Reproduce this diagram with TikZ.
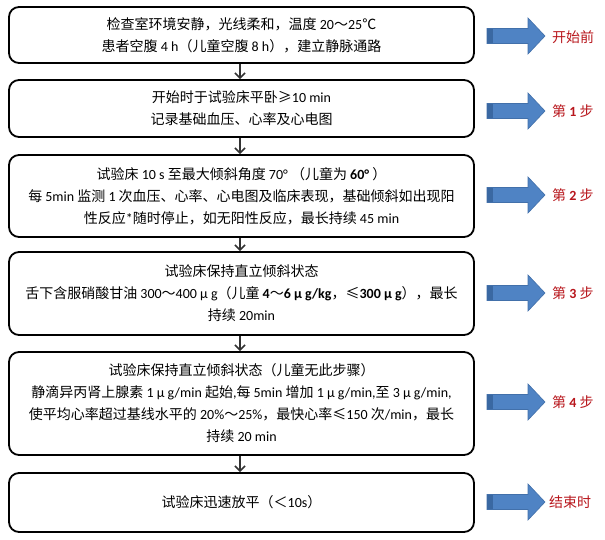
\documentclass[tikz,border=0pt]{standalone}
\usepackage{fontspec}
\setmainfont{Noto Sans CJK SC}
\newfontfamily\lat{Carlito}
\usetikzlibrary{arrows.meta}
\definecolor{stepred}{RGB}{184,22,28}
\definecolor{arrowblue}{RGB}{79,131,196}
\definecolor{arrowdark}{RGB}{58,104,162}
\definecolor{arrowedge}{RGB}{66,112,170}
\newcommand{\La}[1]{{\lat #1}}
\newcommand{\Lb}[1]{{\lat\bfseries #1}}
\tikzset{
  stepbox/.style={draw=black, line width=1.8pt, rounded corners=10pt,
    minimum width=465pt, inner sep=0pt, align=center,
    font=\fontsize{14pt}{22pt}\selectfont},
  flowline/.style={draw=black!80, line width=1.1pt,
    -{Straight Barb[length=5pt,width=10pt,line width=1.6pt]}},
  steplabel/.style={anchor=west, text=stepred, inner sep=0pt,
    font=\fontsize{14pt}{16pt}\selectfont},
  bigarrow/.style={fill=arrowblue, draw=arrowedge, line width=0.6pt}
}
\newcommand{\blockarrow}[1]{%
  \path[bigarrow] (#1) ++(0,-7.5) -- ++(41,0) -- ++(0,-10.5) -- ++(17,18)
    -- ++(-17,18) -- ++(0,-10.5) -- ++(-41,0) -- cycle;
  \fill[arrowdark] (#1) ++(0.3,-7.2) rectangle ++(6,14.4);
}
\begin{document}
\begin{tikzpicture}[x=1pt,y=-1pt]
\useasboundingbox (0,0) rectangle (605,540);
\fill[white] (0,0) rectangle (605,540);

\node[stepbox, minimum height=56pt] (b1) at (241.5,35)
  {检查室环境安静，光线柔和，温度 \La{20}～\La{25}℃\\
   患者空腹 \La{4 h}（儿童空腹 \La{8 h}），建立静脉通路};
\node[stepbox, minimum height=57pt] (b2) at (241.5,108.5)
  {开始时于试验床平卧≥\La{10 min}\\
   记录基础血压、心率及心电图};
\node[stepbox, minimum height=82pt] (b3) at (241.5,196)
  {试验床 \La{10 s} 至最大倾斜角度 \La{70°} （儿童为 \Lb{60°} ）\\
   每 \La{5min} 监测 \La{1} 次血压、心率、心电图及临床表现，基础倾斜如出现阳\\
   性反应\La{*}随时停止，如无阳性反应，最长持续 \La{45 min}};
\node[stepbox, minimum height=83pt] (b4) at (241.5,293.5)
  {试验床保持直立倾斜状态\\
   舌下含服硝酸甘油 \La{300}～\La{400 μ g}（儿童 \Lb{4}～\Lb{6 μ g/kg}，≤\Lb{300 μ g}），最长\\
   持续 \La{20min}};
\node[stepbox, minimum height=103pt] (b5) at (241.5,403.5)
  {试验床保持直立倾斜状态（儿童无此步骤）\\
   静滴异丙肾上腺素 \La{1 μ g/min} 起始\La{,}每 \La{5min} 增加 \La{1 μ g/min}\La{,}至 \La{3 μ g/min}\La{,}\\
   使平均心率超过基线水平的 \La{20\%}～\La{25\%}，最快心率≤\La{150} 次\La{/min}，最长\\
   持续 \La{20 min}};
\node[stepbox, minimum height=59pt] (b6) at (241.5,502.5)
  {试验床迅速放平（＜\La{10s}）};

\draw[flowline] (b1.south -| 240,0) -- (b2.north -| 240,0);
\draw[flowline] (b2.south -| 240,0) -- (b3.north -| 240,0);
\draw[flowline] (b3.south -| 240,0) -- (b4.north -| 240,0);
\draw[flowline] (b4.south -| 240,0) -- (b5.north -| 240,0);
\draw[flowline] (b5.south -| 240,0) -- (b6.north -| 240,0);

\coordinate (a1) at (487,36);
\coordinate (a2) at (487,111);
\coordinate (a3) at (487,195);
\coordinate (a4) at (487,293);
\coordinate (a5) at (487,402);
\coordinate (a6) at (487,502);
\blockarrow{a1}
\blockarrow{a2}
\blockarrow{a3}
\blockarrow{a4}
\blockarrow{a5}
\blockarrow{a6}

\node[steplabel] (l1) at (552,37) {开始前};
\node[steplabel] (l2) at (552,111) {第 \Lb{1} 步};
\node[steplabel] (l3) at (552,195) {第 \Lb{2} 步};
\node[steplabel] (l4) at (552,293) {第 \Lb{3} 步};
\node[steplabel] (l5) at (552,402) {第 \Lb{4} 步};
\node[steplabel] (l6) at (549,502) {结束时};
\end{tikzpicture}
\end{document}
